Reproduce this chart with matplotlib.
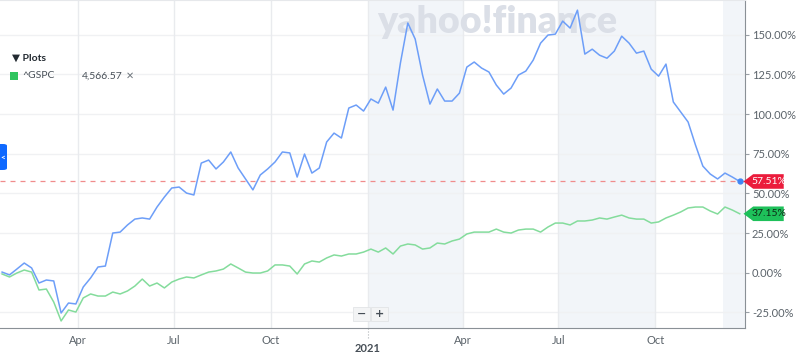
import matplotlib
matplotlib.use('Agg')
import matplotlib.pyplot as plt
import matplotlib.dates as mdates
from matplotlib.patches import Polygon, Rectangle, FancyBboxPatch
import pandas as pd
import numpy as np

plt.rcParams['font.family'] = ['Lato', 'DejaVu Sans']

# weekly % change since start
compare_pct = [0.4, -1.4, 2.3, 6.1, 3.0, -6.5, -4.6, -5.2, -25.4, -19.1,
               -19.7, -9.0, -3.3, 3.6, 4.2, 25.0, 25.6, 30.1, 33.8, 34.5,
               33.8, 41.4, 47.7, 53.4, 54.0, 50.2, 49.0, 69.1, 71.0, 65.4,
               69.8, 76.1, 66.0, 59.1, 52.2, 61.6, 65.4, 69.8, 76.1, 75.5,
               60.3, 74.8, 62.8, 66.0, 82.4, 88.0, 84.9, 103.8, 105.7, 101.9,
               109.5, 106.9, 117.0, 102.5, 132.2, 157.4, 147.3, 124.6, 106.3, 115.8,
               108.2, 108.2, 113.2, 129.6, 132.8, 129.0, 126.5, 118.3, 112.6, 116.4,
               124.6, 127.1, 134.0, 144.7, 149.8, 150.4, 158.6, 154.2, 165.5, 137.8,
               140.9, 137.1, 135.2, 139.7, 149.1, 144.7, 138.4, 139.7, 128.3, 123.9,
               131.5, 107.6, 101.3, 95.0, 80.5, 67.2, 62.2, 59.1, 62.8, 60.3,
               57.51]
gspc_pct = [-0.8, -2.7, -0.2, 1.7, 0.4, -10.9, -10.3, -18.5, -30.4, -23.5,
            -24.8, -15.9, -13.4, -14.7, -14.7, -12.2, -13.4, -11.5, -8.4, -4.0,
            -8.4, -6.5, -9.6, -5.9, -4.0, -2.7, -3.3, -1.4, 0.4, 1.1,
            2.3, 5.5, 3.0, 0.4, -0.2, -0.2, 1.1, 4.9, 4.9, 4.2,
            -0.8, 5.5, 7.4, 6.7, 9.3, 11.2, 10.5, 11.8, 11.8, 13.0,
            14.9, 13.0, 15.6, 11.8, 16.8, 18.1, 17.5, 14.9, 15.6, 18.7,
            18.1, 20.0, 21.2, 24.4, 25.6, 25.6, 25.6, 27.5, 25.6, 25.0,
            26.9, 27.5, 27.5, 25.6, 28.8, 31.3, 31.3, 30.1, 32.6, 32.6,
            33.2, 34.5, 33.8, 35.1, 36.3, 34.5, 33.8, 33.8, 31.3, 32.0,
            34.5, 36.3, 38.3, 40.8, 41.4, 41.4, 38.9, 37.0, 41.4, 39.5,
            37.15]
dates = pd.date_range('2020-01-20', periods=len(gspc_pct), freq='7D')

tick_dates = pd.to_datetime(['2020-04-01', '2020-07-01', '2020-10-01', '2021-01-01',
                             '2021-04-01', '2021-07-01', '2021-10-01'])
tick_labels = ['Apr', 'Jul', 'Oct', '', 'Apr', 'Jul', 'Oct']
y_ticks = [-25, 0, 25, 50, 75, 100, 125, 150]
shade_spans = [('2021-01-01', '2021-04-01'), ('2021-07-01', '2021-10-01'),
               ('2021-12-04', '2021-12-26')]

blue = '#6d9ef8'
green = '#84dc9c'
grid_c = '#f0f1f3'
text_c = '#5b636a'

fig = plt.figure(figsize=(8, 3.57), dpi=100)
ax = fig.add_axes([0, 29 / 357, 745 / 800, 328 / 357])

for a, b in shade_spans:
    ax.axvspan(pd.Timestamp(a), pd.Timestamp(b), color='#f2f5f9', zorder=0, lw=0)

for yt in y_ticks:
    ax.axhline(yt, color=grid_c, lw=1.0, zorder=1)
for td in tick_dates:
    ax.axvline(td, color='#e9ebee', lw=1.0, zorder=1)

# watermark
ax.text(0.668, 0.985, 'yahoo!finance', transform=ax.transAxes, ha='center', va='top',
        fontsize=27, fontweight='heavy', color='#dbdfe7', zorder=2)

ax.axhline(compare_pct[-1], color='#f08c8c', lw=0.9, ls=(0, (4, 4)), zorder=3)
ax.plot(dates, compare_pct, color=blue, lw=1.1, zorder=4)
ax.plot(dates, gspc_pct, color=green, lw=1.1, zorder=4)
ax.plot(dates[-1], compare_pct[-1], 'o', ms=3.5, color='#3f86f5', zorder=5)

ax.set_xlim(pd.Timestamp('2020-01-18'), pd.Timestamp('2021-12-25'))
ax.set_ylim(-34.85, 171.9)

ax.yaxis.tick_right()
ax.set_yticks(y_ticks)
ax.set_yticklabels(['%.2f%%' % v for v in y_ticks])
ax.set_xticks(tick_dates)
ax.set_xticklabels(tick_labels)
ax.tick_params(axis='y', colors='#9aa0a6', labelcolor=text_c, labelsize=8,
               length=3, pad=2)
ax.tick_params(axis='x', colors='#ffffff', labelcolor=text_c, labelsize=8,
               length=0, pad=5)
ax.spines['left'].set_visible(False)
ax.spines['top'].set_color('#e6e8eb')
ax.spines['right'].set_color('#8a9096')
ax.spines['bottom'].set_color('#8a9096')

# year label
ax.text(pd.Timestamp('2021-01-01'), -0.046, '2021', transform=ax.get_xaxis_transform(),
        ha='center', va='top', fontsize=8, fontweight='bold', color='#464e56', clip_on=False)
ax.plot([pd.Timestamp('2021-01-01')] * 2, [0, -0.035], transform=ax.get_xaxis_transform(),
        color='#b0b4b8', lw=0.8, ls=':', clip_on=False)

# price tags on the right axis
yt_tr = ax.get_yaxis_transform()
h = 4.6
for val, fc, tc in [(compare_pct[-1], '#eb1c3c', 'white'), (gspc_pct[-1], '#1ec05a', '#0e2a16')]:
    pts = [(0.998, val), (1.011, val + h), (1.052, val + h), (1.052, val - h), (1.011, val - h)]
    ax.add_patch(Polygon(pts, closed=True, transform=yt_tr, facecolor=fc, edgecolor='none',
                         clip_on=False, zorder=6))
    ax.text(1.032, val, '%.2f%%' % val, transform=yt_tr, ha='center', va='center',
            fontsize=7.5, color=tc, clip_on=False, zorder=7)

# legend panel
fig.text(12 / 800, 1 - 58 / 357, '\u25bc Plots', fontsize=7.5, fontweight='bold',
         color='#232a31', va='center')
fig.patches.append(Rectangle((10 / 800, 1 - 80 / 357), 8 / 800, 8 / 357,
                             transform=fig.transFigure, facecolor='#2fc45e', edgecolor='none'))
fig.text(22 / 800, 1 - 76 / 357, '^GSPC', fontsize=7.5, color='#464e56', va='center')
fig.text(82 / 800, 1 - 76 / 357, '4,566.57', fontsize=7.5, color='#464e56', va='center')
fig.text(126 / 800, 1 - 76 / 357, '\u2715', fontsize=7, color='#6e757c', va='center',
         family='DejaVu Sans')

# side toggle button
fig.patches.append(FancyBboxPatch((-4 / 800, 1 - 170 / 357), 11 / 800, 26 / 357,
                                  boxstyle='round,pad=0,rounding_size=0.005',
                                  transform=fig.transFigure, facecolor='#0f69ff', edgecolor='none'))
fig.text(2.5 / 800, 1 - 157 / 357, '<', fontsize=6, color='white', ha='center', va='center',
         fontweight='bold')

# zoom buttons
for cx, lab in [(362, '\u2212'), (380, '+')]:
    fig.patches.append(Rectangle(((cx - 9) / 800, 1 - 321 / 357), 17 / 800, 14 / 357,
                                 transform=fig.transFigure, facecolor='#f3f4f5',
                                 edgecolor='#e2e4e6', lw=0.6, zorder=8))
    fig.text(cx / 800, 1 - 314 / 357, lab, fontsize=8, fontweight='bold', color='#464e56',
             ha='center', va='center', zorder=9, family='DejaVu Sans')

fig.savefig('out.png', dpi=100)
